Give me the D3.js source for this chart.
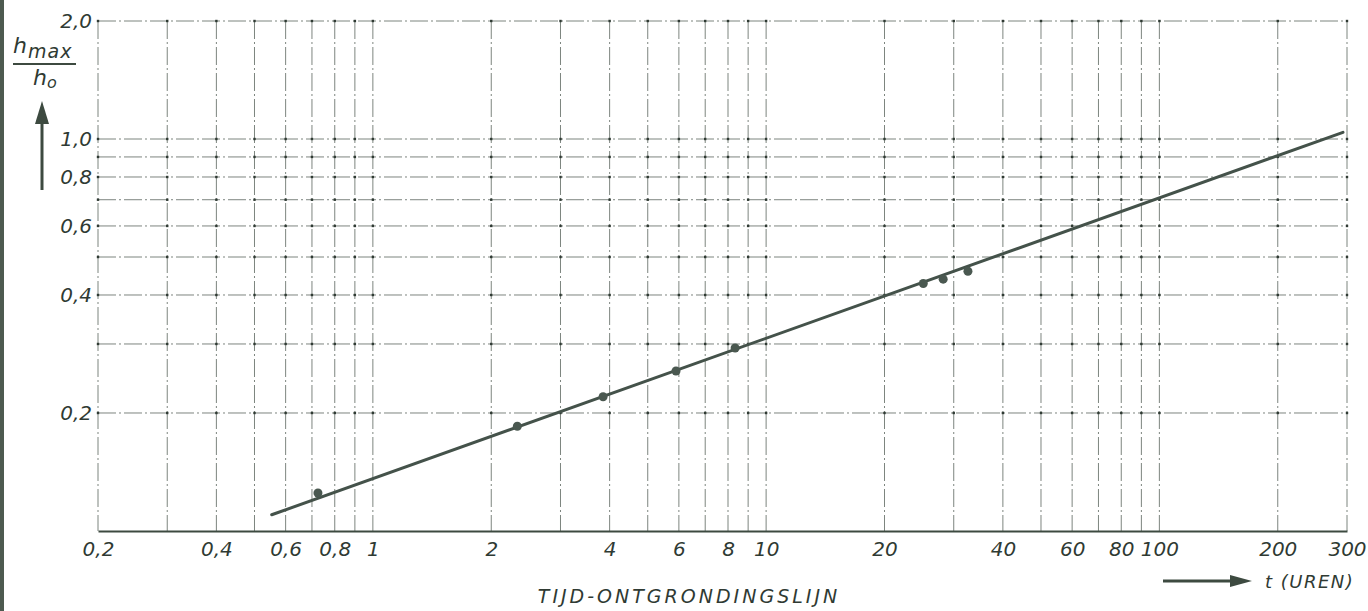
<!DOCTYPE html>
<html>
<head>
<meta charset="utf-8">
<script src="https://cdn.jsdelivr.net/npm/d3@7"></script>
<style>
  html, body { margin: 0; padding: 0; background: #ffffff; }
  svg { display: block; }
  text { font-family: "DejaVu Sans", "Liberation Sans", sans-serif; font-style: italic; fill: #2f3a33; }
</style>
</head>
<body>
<script>
// ---- data ----
const xTickValues = [0.2, 0.4, 0.6, 0.8, 1, 2, 4, 6, 8, 10, 20, 40, 60, 80, 100, 200, 300];
const xTickLabels = ["0,2", "0,4", "0,6", "0,8", "1", "2", "4", "6", "8", "10", "20", "40", "60", "80", "100", "200", "300"];
const xGridValues = [0.2, 0.3, 0.4, 0.5, 0.6, 0.7, 0.8, 0.9, 1, 2, 3, 4, 5, 6, 7, 8, 9, 10, 20, 30, 40, 50, 60, 70, 80, 90, 100, 200, 300];
const yTickValues = [2.0, 1.0, 0.8, 0.6, 0.4, 0.2];
const yTickLabels = ["2,0", "1,0", "0,8", "0,6", "0,4", "0,2"];
const yGridValues = [0.2, 0.3, 0.4, 0.5, 0.6, 0.7, 0.8, 0.9, 1.0, 2.0];
const obsTime = [0.725, 2.33, 3.85, 5.9, 8.34, 25.1, 28.2, 32.6];
const obsRatio = [0.125, 0.185, 0.220, 0.256, 0.293, 0.428, 0.439, 0.460];
const fitTime = [0.553, 293];
const fitRatio = [0.110, 1.04];
const xTitle = "TIJD-ONTGRONDINGSLIJN";
const unitLabel = "t (UREN)";

// ---- layout ----
const W = 1368, H = 611;
const ink = "#3d4a40";
const svg = d3.select("body").append("svg").attr("width", W).attr("height", H);

const x = d3.scaleLog().domain([0.2, 300]).range([98, 1347]);
const y = d3.scaleLog().domain([0.1, 2.0]).range([531, 21]);

// scan edge bar
svg.append("rect").attr("x", 0).attr("y", 0).attr("width", 4).attr("height", H).attr("fill", "#4d5a50");

// grid
const grid = svg.append("g");
grid.selectAll("line.v").data(xGridValues).join("line")
  .attr("x1", d => x(d)).attr("x2", d => x(d))
  .attr("y1", y(2.0)).attr("y2", y(0.1))
  .attr("stroke", "#7d857f").attr("stroke-width", 1)
  .attr("stroke-dasharray", "18,3,2,3");
grid.selectAll("line.h").data(yGridValues).join("line")
  .attr("x1", x(0.2)).attr("x2", x(300))
  .attr("y1", d => y(d)).attr("y2", d => y(d))
  .attr("stroke", "#7d857f").attr("stroke-width", 1)
  .attr("stroke-dasharray", "18,3,2,3");
// intersection dots
const inter = [];
xGridValues.forEach(a => yGridValues.forEach(b => inter.push([a, b])));
grid.selectAll("rect.i").data(inter).join("rect")
  .attr("x", d => x(d[0]) - 1.2).attr("y", d => y(d[1]) - 1.2)
  .attr("width", 2.4).attr("height", 2.4).attr("fill", "#2f3a33");

// bottom axis (solid)
const xAxis = d3.axisBottom(x).tickValues(xTickValues)
  .tickFormat((d, i) => xTickLabels[i]).tickSize(0).tickPadding(11);
const gx = svg.append("g").attr("transform", `translate(0,${y(0.1)})`).call(xAxis);
gx.select(".domain").attr("stroke", ink).attr("stroke-width", 2);
gx.selectAll("text").attr("font-size", 20).attr("fill", "#2f3a33")
  .style("font-style", "italic").style("font-family", "'DejaVu Sans', sans-serif");

// left axis labels
const yAxis = d3.axisLeft(y).tickValues(yTickValues)
  .tickFormat((d, i) => yTickLabels[i]).tickSize(0).tickPadding(6);
const gy = svg.append("g").attr("transform", `translate(${x(0.2)},0)`).call(yAxis);
gy.select(".domain").remove();
gy.selectAll("text").attr("font-size", 20).attr("fill", "#2f3a33")
  .style("font-style", "italic").style("font-family", "'DejaVu Sans', sans-serif");

// fit line
const lineGen = d3.line().x(d => x(d[0])).y(d => y(d[1]));
svg.append("path").datum(d3.zip(fitTime, fitRatio))
  .attr("d", lineGen).attr("fill", "none")
  .attr("stroke", "#44524a").attr("stroke-width", 3).attr("stroke-linecap", "round");

// observations
svg.selectAll("circle.obs").data(d3.zip(obsTime, obsRatio)).join("circle")
  .attr("cx", d => x(d[0])).attr("cy", d => y(d[1]))
  .attr("r", 4.5).attr("fill", "#4a5850");

// y title: h_max / h_o
const yt = svg.append("g");
yt.append("text").attr("x", 13).attr("y", 53).attr("font-size", 22).text("h");
yt.append("text").attr("x", 28).attr("y", 58).attr("font-size", 19).attr("letter-spacing", 1).text("max");
yt.append("line").attr("x1", 13).attr("x2", 76).attr("y1", 64).attr("y2", 64)
  .attr("stroke", ink).attr("stroke-width", 2);
yt.append("text").attr("x", 33).attr("y", 85).attr("font-size", 22).text("h");
yt.append("text").attr("x", 47).attr("y", 88).attr("font-size", 16).text("o");
// up arrow
yt.append("line").attr("x1", 42).attr("x2", 42).attr("y1", 190).attr("y2", 118)
  .attr("stroke", ink).attr("stroke-width", 3);
yt.append("path").attr("d", "M42,101 L35,124 L49,124 Z").attr("fill", ink);

// x title
svg.append("text").attr("x", 689).attr("y", 603).attr("text-anchor", "middle")
  .attr("font-size", 19).attr("letter-spacing", 3).text(xTitle);

// unit with arrow
svg.append("line").attr("x1", 1163).attr("x2", 1235).attr("y1", 581).attr("y2", 581)
  .attr("stroke", ink).attr("stroke-width", 3);
svg.append("path").attr("d", "M1252,581 L1230,575 L1230,587 Z").attr("fill", ink);
svg.append("text").attr("x", 1265).attr("y", 588).attr("font-size", 18).attr("letter-spacing", 1.5).text(unitLabel);
</script>
</body>
</html>
